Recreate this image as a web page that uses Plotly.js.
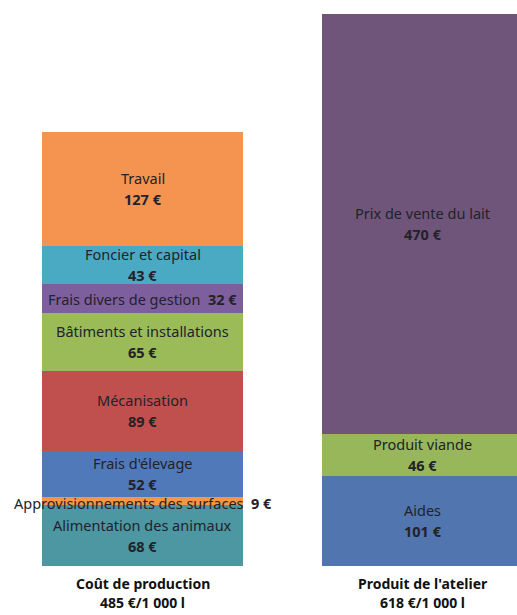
<!DOCTYPE html>
<html>
<head>
<meta charset="utf-8">
<script src="https://cdn.plot.ly/plotly-3.0.1.min.js"></script>
<style>html,body{margin:0;padding:0;background:#fff;}#chart{width:517px;height:615px;}</style>
</head>
<body>
<div id="chart"></div>
<script>
const categories = ['Coût de production', "Produit de l'atelier"];
const totalLabels = ['485 €/1 000 l', '618 €/1 000 l'];

const costNames = ['Alimentation des animaux', 'Approvisionnements des surfaces', "Frais d'élevage", 'Mécanisation', 'Bâtiments et installations', 'Frais divers de gestion', 'Foncier et capital', 'Travail'];
const costValues = [68, 9, 52, 89, 65, 32, 43, 127];
const costColors = ['#4D97A3', '#F79646', '#5079BA', '#C0504D', '#9BBB59', '#7E5F9E', '#4BAAC3', '#F59450'];

const productNames = ['Aides', 'Produit viande', 'Prix de vente du lait'];
const productValues = [101, 46, 470];
const productColors = ['#5175AE', '#98B75A', '#6F5579'];

const FONT = 'Noto Sans, Open Sans, sans-serif';
const TXT = '#22222a';
const FS = 14.5;
const traces = [];
const annotations = [];

function addStack(catIndex, names, values, colors) {
  let base = 0;
  names.forEach((name, i) => {
    const v = values[i];
    traces.push({
      type: 'bar', x: [catIndex], y: [v], width: 0.718,
      marker: {color: colors[i], line: {width: 0}},
      name: name, hoverinfo: 'none', showlegend: false
    });
    const mid = base + v / 2;
    if (v < 35) {
      annotations.push({x: catIndex, y: mid, xref: 'x', yref: 'y', showarrow: false,
        text: name + '&nbsp;&nbsp;<b>' + v + ' €</b>', font: {family: FONT, size: FS, color: TXT},
        xanchor: 'center', yanchor: 'middle', yshift: v < 15 ? -1.5 : 0, borderpad: 0});
    } else {
      annotations.push({x: catIndex, y: mid, xref: 'x', yref: 'y', showarrow: false,
        text: name, font: {family: FONT, size: FS, color: TXT},
        xanchor: 'center', yanchor: 'middle', yshift: 11, borderpad: 0});
      annotations.push({x: catIndex, y: mid, xref: 'x', yref: 'y', showarrow: false,
        text: '<b>' + v + ' €</b>', font: {family: FONT, size: FS, color: TXT},
        xanchor: 'center', yanchor: 'middle', yshift: -10, borderpad: 0});
    }
    base += v;
  });
}
addStack(0, costNames, costValues, costColors);
addStack(1, productNames, productValues, productColors);

categories.forEach((c, i) => {
  annotations.push({x: i, y: 0, xref: 'x', yref: 'y', showarrow: false,
    text: '<b>' + c + '</b>', font: {family: FONT, size: 14, color: '#111'},
    xanchor: 'center', yanchor: 'middle', yshift: -17});
  annotations.push({x: i, y: 0, xref: 'x', yref: 'y', showarrow: false,
    text: '<b>' + totalLabels[i] + '</b>', font: {family: FONT, size: 14, color: '#111'},
    xanchor: 'center', yanchor: 'middle', yshift: -36});
});

const layout = {
  width: 517, height: 615,
  margin: {l: 0, r: 0, t: 14, b: 49},
  paper_bgcolor: '#fff', plot_bgcolor: '#fff',
  barmode: 'stack', bargap: 0,
  showlegend: false,
  xaxis: {type: 'linear', range: [-0.509, 1.3375], showgrid: false, zeroline: false,
    showticklabels: false, ticks: '', showline: false, fixedrange: true},
  yaxis: {range: [0, 617], showgrid: false, zeroline: false, showticklabels: false,
    ticks: '', showline: false, fixedrange: true},
  annotations: annotations
};

Plotly.newPlot('chart', traces, layout, {displayModeBar: false, staticPlot: true});
</script>
</body>
</html>
